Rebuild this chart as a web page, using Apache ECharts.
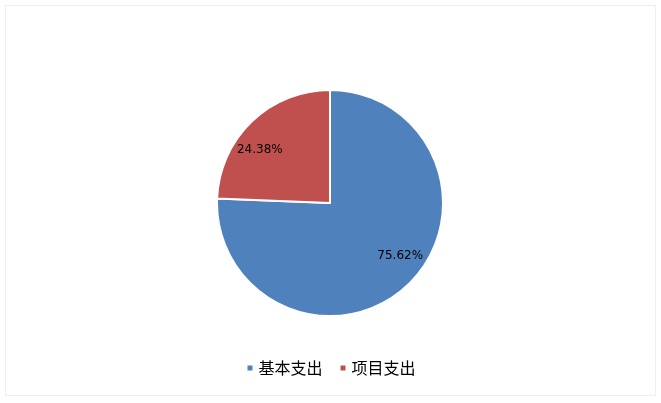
<!DOCTYPE html>
<html>
<head>
<meta charset="utf-8">
<script src="https://cdn.jsdelivr.net/npm/echarts@6/dist/echarts.min.js"></script>
<style>
    html, body { margin: 0; padding: 0; background: #fff; }
    .frame {
        position: absolute; left: 5px; top: 5px;
        width: 649px; height: 389px;
        border: 1px solid #efefef;
    }
    #chart { width: 661px; height: 403px; }
</style>
</head>
<body>
<div class="frame"></div>
<div id="chart"></div>
<script>
    // 数据
    let categories = ['基本支出', '项目支出'];
    let values = [75.62, 24.38];
    let colors = ['#4f81bd', '#c0504d'];

    let myChart = echarts.init(document.getElementById('chart'));
    let pieData = categories.map(function (name, i) {
        return { name: name, value: values[i] };
    });

    let option = {
        color: colors,
        animation: false,
        legend: {
            bottom: 22,
            left: 'center',
            icon: 'rect',
            itemWidth: 7,
            itemHeight: 7,
            itemGap: 16,
            textStyle: {
                color: '#000',
                fontSize: 16,
                fontFamily: 'Noto Sans CJK SC'
            },
            data: categories
        },
        series: [{
            name: '支出',
            type: 'pie',
            radius: [0, 113],
            center: [330, 203],
            startAngle: 90,
            itemStyle: {
                borderColor: '#fff',
                borderWidth: 2
            },
            label: { show: false },
            labelLine: { show: false },
            data: pieData
        }, {
            // 透明的外圈，只用来把百分比标签放到靠外的位置
            name: '标签',
            type: 'pie',
            silent: true,
            radius: [0, 170],
            center: [330, 203],
            startAngle: 99,
            itemStyle: { color: 'transparent' },
            label: {
                show: true,
                position: 'inside',
                color: '#000',
                fontSize: 12,
                fontFamily: 'DejaVu Sans',
                formatter: function (p) {
                    return p.value.toFixed(2) + '%';
                }
            },
            labelLine: { show: false },
            data: pieData
        }]
    };
    myChart.setOption(option);
</script>
</body>
</html>
